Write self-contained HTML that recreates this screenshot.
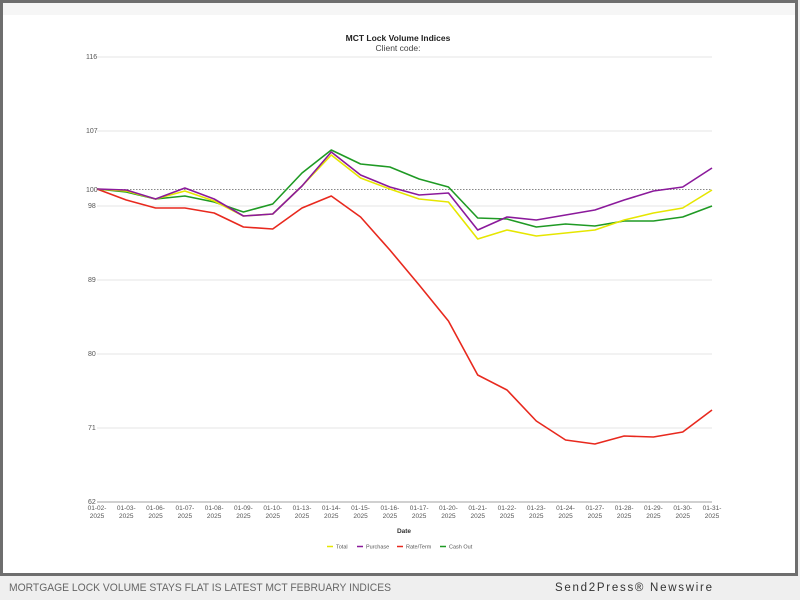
<!DOCTYPE html>
<html><head><meta charset="utf-8"><style>
html,body{margin:0;padding:0;width:800px;height:600px;overflow:hidden;background:#efefef;font-family:"Liberation Sans",sans-serif}
</style></head><body>
<svg width="800" height="600" xmlns="http://www.w3.org/2000/svg" font-family="Liberation Sans, sans-serif">
<rect x="0" y="0" width="800" height="600" fill="#efefef"/>
<rect x="1.5" y="1.5" width="795" height="573" fill="#fff" stroke="#6e6e6e" stroke-width="3"/>
<rect x="3" y="3" width="792" height="12" fill="#f6f6f6"/>
<text x="398" y="41" font-size="8.5" font-weight="bold" text-anchor="middle" fill="#222">MCT Lock Volume Indices</text>
<text x="398" y="51" font-size="8.5" text-anchor="middle" fill="#444">Client code:</text>
<g stroke="#e6e6e6" stroke-width="1">
<line x1="97" x2="712" y1="57" y2="57"/><line x1="97" x2="712" y1="131" y2="131"/>
<line x1="97" x2="712" y1="206" y2="206"/><line x1="97" x2="712" y1="280" y2="280"/>
<line x1="97" x2="712" y1="354" y2="354"/><line x1="97" x2="712" y1="428" y2="428"/>
</g>
<line x1="97" x2="712" y1="502" y2="502" stroke="#d0d0d0" stroke-width="2"/>
<line x1="97" x2="712" y1="189.5" y2="189.5" stroke="#888" stroke-width="1" stroke-dasharray="1.5,1.5"/>
<g font-size="7" fill="#555">
<text x="86" y="59">116</text><text x="86" y="133">107</text><text x="86" y="192">100</text>
<text x="88" y="208">98</text><text x="88" y="282">89</text><text x="88" y="356">80</text>
<text x="88" y="430">71</text><text x="88" y="504">62</text>
</g>
<g font-size="6.5" fill="#555" text-anchor="middle" id="xl"></g>
<text x="404" y="533" font-size="6.5" font-weight="bold" text-anchor="middle" fill="#333">Date</text>
<g font-size="5.5" fill="#555">
<line x1="327" x2="333" y1="546.5" y2="546.5" stroke="#e6e600" stroke-width="1.5"/><text x="336" y="548.5">Total</text>
<line x1="357" x2="363" y1="546.5" y2="546.5" stroke="#8b1a9b" stroke-width="1.5"/><text x="366" y="548.5">Purchase</text>
<line x1="397" x2="403" y1="546.5" y2="546.5" stroke="#e8291e" stroke-width="1.5"/><text x="406" y="548.5">Rate/Term</text>
<line x1="440" x2="446" y1="546.5" y2="546.5" stroke="#1f9a24" stroke-width="1.5"/><text x="449" y="548.5">Cash Out</text>
</g>
<g fill="none" stroke-width="1.6" stroke-linejoin="round" id="lines"></g>
<text x="9" y="591" font-size="11" fill="#666" textLength="382" lengthAdjust="spacingAndGlyphs">MORTGAGE LOCK VOLUME STAYS FLAT IS LATEST MCT FEBRUARY INDICES</text>
<text x="555" y="591" font-size="11.5" fill="#333" textLength="157" lengthAdjust="spacing">Send2Press® Newswire</text>
<script>
var dates=["01-02","01-03","01-06","01-07","01-08","01-09","01-10","01-13","01-14","01-15","01-16","01-17","01-20","01-21","01-22","01-23","01-24","01-27","01-28","01-29","01-30","01-31"];
var ns="http://www.w3.org/2000/svg";
var xl=document.getElementById("xl");
function X(i){return 97+i*29.286;}
dates.forEach(function(d,i){
 var t=document.createElementNS(ns,"text");t.setAttribute("x",X(i));t.setAttribute("y",510);t.textContent=d+"-";xl.appendChild(t);
 var t2=document.createElementNS(ns,"text");t2.setAttribute("x",X(i));t2.setAttribute("y",518);t2.textContent="2025";xl.appendChild(t2);
});
var S={
"#e8291e":[189,200,208,208,213,227,229,208,196,217,250,285,321,375,390,421,440,444,436,437,432,410],
"#1f9a24":[189,192,199,196,202,212,204,173,150,164,167,179,187,218,219,227,224,226,221,221,217,206],
"#e6e600":[189,191,199,191,201,216,214,186,155,178,189,199,202,239,230,236,233,230,220,213,208,190],
"#8b1a9b":[189,190,199,188,199,216,214,186,152,175,187,195,193,230,217,220,215,210,200,191,187,168]};
var g=document.getElementById("lines");
for(var c in S){var p=document.createElementNS(ns,"polyline");
 p.setAttribute("points",S[c].map(function(y,i){return X(i)+","+y}).join(" "));
 p.setAttribute("stroke",c);g.appendChild(p);}
</script>
</svg>
</body></html>
